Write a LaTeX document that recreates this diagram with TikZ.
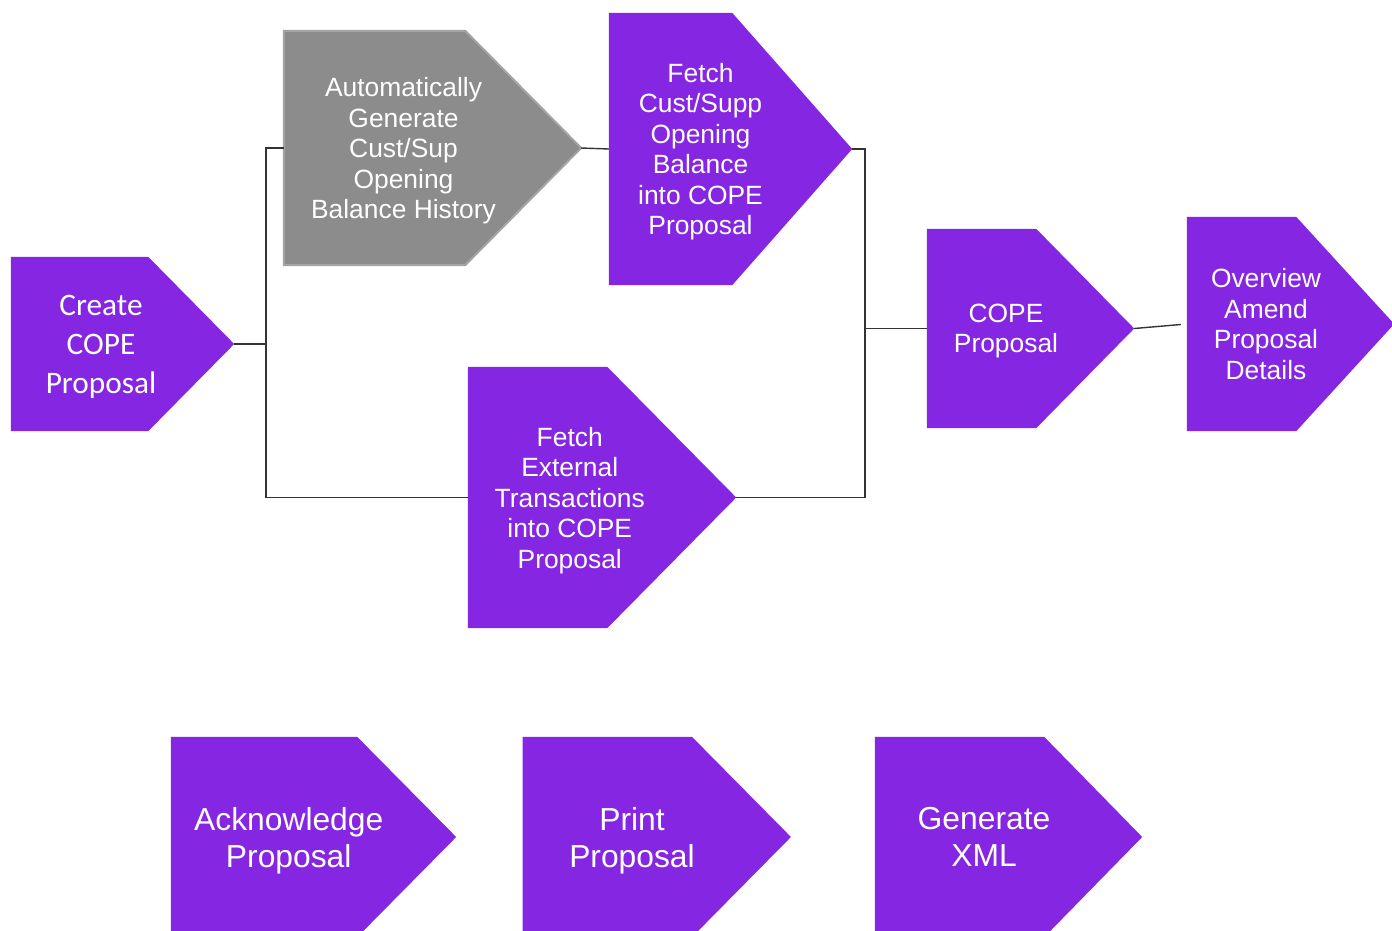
\documentclass[tikz,border=0pt]{standalone}
\usepackage{fontspec}
\setmainfont{Liberation Sans}
\newfontfamily\calibrifont{Carlito}
\usepackage{tikz}
\usetikzlibrary{backgrounds}
\definecolor{stagepurple}{HTML}{8426E2}
\definecolor{stagegray}{HTML}{8C8C8C}
\definecolor{stageedge}{HTML}{A3A3A3}
\definecolor{linkgray}{HTML}{333333}

\begin{document}
\begin{tikzpicture}[
  x=1pt, y=-1pt,
  stage/.style={inner sep=0pt, align=center, text=white, text depth=-2pt,
                font=\fontsize{26.4}{30.5}\selectfont},
  bigstage/.style={stage, font=\fontsize{31.8}{37}\selectfont},
  link/.style={draw=linkgray, line width=1.4pt},
]
\useasboundingbox (0,0) rectangle (1392,931);

% main flow
\node[stage, font=\calibrifont\fontsize{31.3}{39}\selectfont,
      minimum width=180pt, minimum height=174pt] (create) at (101,344)
  {Create\\ COPE\\ Proposal};
\node[stage, minimum width=239pt, minimum height=234pt] (autogen) at (403.5,148)
  {Automatically\\ Generate\\ Cust/Sup\\ Opening\\ Balance History};
\node[stage, minimum width=183pt, minimum height=272pt] (fetchbal) at (700.5,149)
  {Fetch\\ Cust/Supp\\ Opening\\ Balance\\ into COPE\\ Proposal};
\node[stage, minimum width=203.5pt, minimum height=261pt] (fetchext) at (569.75,497.5)
  {Fetch\\ External\\ Transactions\\ into COPE\\ Proposal};
\node[stage, minimum width=158pt, minimum height=199pt] (cope) at (1006,328.5)
  {COPE\\ Proposal};
\node[stage, minimum width=158pt, minimum height=214pt] (amend) at (1266,324)
  {Overview\\ Amend\\ Proposal\\ Details};

% later steps
\node[bigstage, minimum width=235.5pt, minimum height=200pt] (ack) at (288.75,837)
  {Acknowledge\\ Proposal};
\node[bigstage, minimum width=218.5pt, minimum height=200pt] (print) at (632,837)
  {Print\\ Proposal};
\node[bigstage, minimum width=218pt, minimum height=200pt] (xml) at (984,837)
  {Generate\\ XML};

% chevron bodies
\begin{scope}[on background layer]
\foreach \n/\t/\c/\e in {create/86/stagepurple/none, autogen/116/stagegray/stageedge,
    fetchbal/120/stagepurple/none, fetchext/129/stagepurple/none,
    cope/98/stagepurple/none, amend/98/stagepurple/none,
    ack/99/stagepurple/none, print/99/stagepurple/none, xml/98/stagepurple/none}{
  \coordinate (\n-tip) at ([xshift=\t/2]\n.east);
  \path[fill=\c, draw=\e, line width=2pt]
    (\n.north west) -- ([xshift=-\t/2]\n.north east) -- (\n-tip)
    -- ([xshift=-\t/2]\n.south east) -- (\n.south west) -- cycle;
}
\end{scope}

\coordinate (split) at (266,344);
\coordinate (merge) at (865,328.5);
\draw[link] (create-tip) -- (split) |- (autogen.west);
\draw[link] (create-tip) -- (split) |- (fetchext.west);
\draw[link] (autogen-tip) -- (fetchbal.west);
\draw[link] (fetchbal-tip) -| (merge) -- (cope.west);
\draw[link] (fetchext-tip) -| (merge);
\draw[link, shorten >=6pt] (cope-tip) -- (amend.west);
\end{tikzpicture}
\end{document}
